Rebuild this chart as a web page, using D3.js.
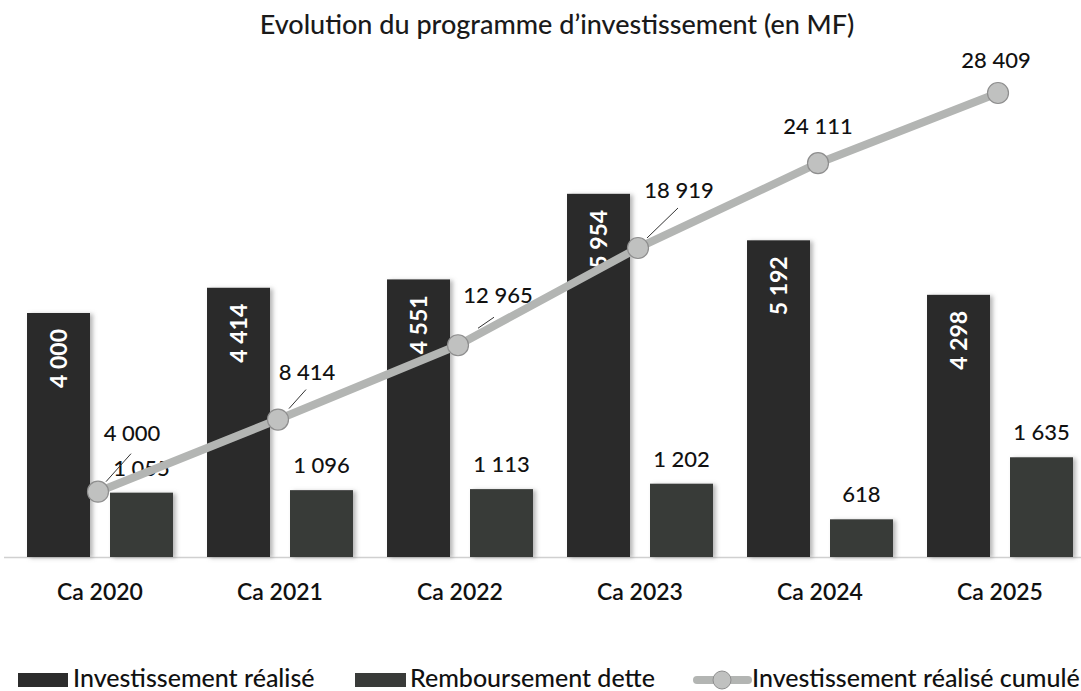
<!DOCTYPE html>
<meta charset="utf-8">
<style>
  body { margin: 0; background: #fff; }
  text { font-family: Lato, "Open Sans", sans-serif; }
</style>
<svg width="1081" height="691"></svg>
<script src="https://d3js.org/d3.v7.min.js"></script>
<script>
// data (MF)
const categories = ["Ca 2020", "Ca 2021", "Ca 2022", "Ca 2023", "Ca 2024", "Ca 2025"];
const investissement = [4000, 4414, 4551, 5954, 5192, 4298];
const remboursement = [1055, 1096, 1113, 1202, 618, 1635];
const cumule = [4000, 8414, 12965, 18919, 24111, 28409];
const seriesNames = ["Investissement réalisé", "Remboursement dette", "Investissement réalisé cumulé"];

// where the cumulated labels sit relative to their point (label centre, leader start, leader end)
const cumLabelPos = [
  {dx: 34, dy: -59, l: [8, -10, 33, -38]},
  {dx: 29, dy: -48, l: [11, -11, 28, -30]},
  {dx: 40, dy: -50, l: [20, -17, 36, -28]},
  {dx: 41, dy: -58, l: [9, -10, 40, -40]},
  {dx: 0, dy: -37, l: null},
  {dx: -2, dy: -33, l: null}
];

const svg = d3.select("svg"),
    width = 1081,
    height = 691,
    baseY = 557;

const fmt = d3.formatLocale({decimal: ",", thousands: "\u00a0", grouping: [3], currency: ["", ""]}).format(",d");

const x0 = d3.scaleBand().domain(categories).range([10, 1090]);
const x1 = d3.scaleBand().domain([0, 1]).range([0, x0.bandwidth()])
    .paddingInner(0.241).paddingOuter(0.205);
const yBar = d3.scaleLinear().domain([0, 7000]).range([baseY, 130]);
const yLine = d3.scaleLinear().domain([0, 30000]).range([baseY, 67]);

const colors = ["#2c2c2c", "#393b39"];

const defs = svg.append("defs");
const f = defs.append("filter").attr("id", "sh").attr("x", "-20%").attr("width", "150%");
f.append("feDropShadow").attr("dx", 3).attr("dy", 1).attr("stdDeviation", 2)
    .attr("flood-color", "#888").attr("flood-opacity", 0.6);

// title
svg.append("text")
    .attr("x", 557).attr("y", 34)
    .attr("text-anchor", "middle")
    .attr("font-size", 27).attr("font-weight", 500).attr("fill", "#1a1a1a")
    .text("Evolution du programme d\u2019investissement (en MF)");

// axis line
svg.append("line")
    .attr("x1", 4).attr("x2", width)
    .attr("y1", baseY + 0.5).attr("y2", baseY + 0.5)
    .attr("stroke", "#d0d0d0").attr("stroke-width", 1.5);

const groups = svg.append("g").selectAll("g")
    .data(categories)
    .join("g")
    .attr("transform", d => `translate(${x0(d)},0)`);

// investissement bars
groups.append("rect")
    .attr("x", x1(0)).attr("width", x1.bandwidth())
    .attr("y", (d, i) => yBar(investissement[i]))
    .attr("height", (d, i) => baseY - yBar(investissement[i]))
    .attr("fill", colors[0]).attr("filter", "url(#sh)");

// remboursement bars
groups.append("rect")
    .attr("x", x1(1)).attr("width", x1.bandwidth())
    .attr("y", (d, i) => yBar(remboursement[i]))
    .attr("height", (d, i) => baseY - yBar(remboursement[i]))
    .attr("fill", colors[1]).attr("filter", "url(#sh)");

// rotated labels inside dark bars
groups.append("text")
    .attr("transform", (d, i) => `translate(${x1(0) + x1.bandwidth() / 2 + 8},${yBar(investissement[i]) + 16}) rotate(-90)`)
    .attr("text-anchor", "end")
    .attr("font-size", 23).attr("font-weight", 700).attr("fill", "#fff")
    .text((d, i) => fmt(investissement[i]));

// labels above remboursement bars
groups.append("text")
    .attr("x", x1(1) + x1.bandwidth() / 2)
    .attr("y", (d, i) => yBar(remboursement[i]) - 17)
    .attr("text-anchor", "middle")
    .attr("font-size", 22).attr("font-weight", 500).attr("fill", "#111")
    .text((d, i) => fmt(remboursement[i]));

// category labels
svg.append("g").selectAll("text")
    .data(categories)
    .join("text")
    .attr("x", d => x0(d) + x0.bandwidth() / 2)
    .attr("y", 600)
    .attr("text-anchor", "middle")
    .attr("font-size", 23).attr("font-weight", 600).attr("fill", "#111")
    .text(d => d);

// cumulated line
const px = i => x0(categories[i]) + x0.bandwidth() / 2 - 2;
const line = d3.line().x((d, i) => px(i)).y(d => yLine(d));

svg.append("path")
    .datum(cumule)
    .attr("d", line)
    .attr("fill", "none")
    .attr("stroke", "#b3b5b3").attr("stroke-width", 8)
    .attr("stroke-linejoin", "round");

svg.append("g").selectAll("circle")
    .data(cumule)
    .join("circle")
    .attr("cx", (d, i) => px(i)).attr("cy", d => yLine(d))
    .attr("r", 10.5)
    .attr("fill", "#c0c1c0").attr("stroke", "#8e8e8e").attr("stroke-width", 1.2);

// leaders + labels of the cumulated line
const cl = svg.append("g");
cumule.forEach((v, i) => {
  const p = cumLabelPos[i], cx = px(i), cy = yLine(v);
  if (p.l) {
    cl.append("line")
        .attr("x1", cx + p.l[0]).attr("y1", cy + p.l[1])
        .attr("x2", cx + p.l[2]).attr("y2", cy + p.l[3])
        .attr("stroke", "#333").attr("stroke-width", 1);
  }
  cl.append("text")
      .attr("x", cx + p.dx).attr("y", cy + p.dy + 8)
      .attr("text-anchor", "middle")
      .attr("font-size", 22).attr("font-weight", 500).attr("fill", "#111")
      .text(fmt(v));
});

// legend
const lg = svg.append("g").attr("transform", "translate(0,687)");
lg.append("rect").attr("x", 18).attr("y", -14).attr("width", 50).attr("height", 14).attr("fill", colors[0]);
lg.append("text").attr("x", 73).attr("y", 0).attr("font-size", 25).attr("font-weight", 500).attr("fill", "#111").text(seriesNames[0]);
lg.append("rect").attr("x", 355).attr("y", -14).attr("width", 51).attr("height", 14).attr("fill", colors[1]);
lg.append("text").attr("x", 410).attr("y", 0).attr("font-size", 25).attr("font-weight", 500).attr("fill", "#111").text(seriesNames[1]);
lg.append("line").attr("x1", 697).attr("x2", 748).attr("y1", -7).attr("y2", -7)
    .attr("stroke", "#b3b5b3").attr("stroke-width", 8).attr("stroke-linecap", "round");
lg.append("circle").attr("cx", 722).attr("cy", -7).attr("r", 9)
    .attr("fill", "#c0c1c0").attr("stroke", "#8e8e8e");
lg.append("text").attr("x", 752).attr("y", 0).attr("font-size", 25).attr("font-weight", 500).attr("fill", "#111").text(seriesNames[2]);
</script>
